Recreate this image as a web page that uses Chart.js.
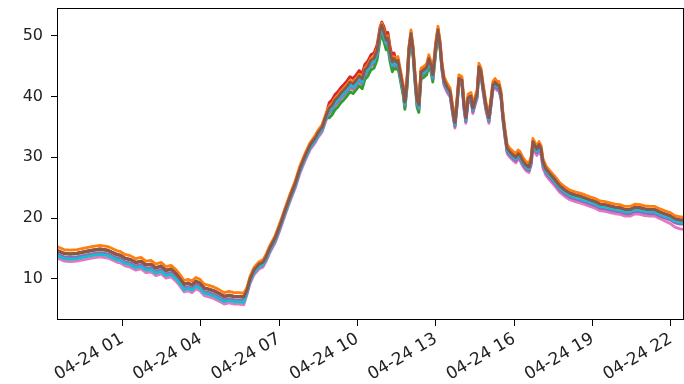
<!DOCTYPE html>
<html>
<head>
<meta charset="utf-8">
<script src="https://cdn.jsdelivr.net/npm/chart.js@4.4.0/dist/chart.umd.min.js"></script>
<style>
  html, body { margin: 0; padding: 0; background: #fff; }
</style>
</head>
<body>
<canvas id="chart" width="684" height="384"></canvas>
<script>
// sample times, minutes from 04-24 00:00 (starts 04-23 22:30)
const minutes = [
  -90, -74, -60, -44, -30, -10, 9, 27, 48, 55, 66, 78, 91, 103, 114, 126, 137, 149, 160, 172,
  183, 192, 202, 211, 220, 229, 238, 248, 259, 271, 282, 294, 305, 317, 328, 339,
  346, 353, 362, 374, 383, 390, 399, 411, 422, 434, 445, 457, 468, 480, 491, 503, 509, 519, 528,
  535, 542, 548, 555, 562, 569, 576, 583, 590, 597, 604, 611, 617, 624, 631, 638, 645, 652, 656, 661, 666, 670, 675, 680, 684,
  689, 693, 698, 705, 709, 714, 718, 723, 728, 732, 737, 741, 746, 753, 759, 764, 769, 773, 780, 785,
  790, 794, 799, 806, 813, 819, 824, 829, 833, 840, 845, 849, 854, 861, 865, 870, 875, 879, 884, 888,
  895, 902, 907, 911, 916, 921, 925, 930, 934, 939, 944, 950, 957, 964, 969, 973, 980, 987, 994, 999,
  1003, 1008, 1012, 1017, 1022, 1026, 1033, 1042, 1054, 1065, 1077, 1088, 1100, 1111, 1123, 1134, 1146, 1157, 1169, 1180,
  1192, 1203, 1215, 1226, 1238, 1249, 1260, 1272, 1283, 1295, 1306, 1318, 1329, 1341, 1350
];

const brown = [
  14.7, 14.2, 14.1, 14.2, 14.4, 14.7, 14.9, 14.7, 14.0, 13.9, 13.4, 13.2, 12.7, 12.9, 12.3, 12.4, 11.8, 12.1, 11.4, 11.6,
  10.9, 10.1, 9.1, 9.3, 9.0, 9.6, 9.3, 8.5, 8.3, 8.0, 7.6, 7.1, 7.3, 7.1, 7.1, 7.0,
  8.1, 9.9, 11.4, 12.4, 12.7, 13.6, 15.1, 16.7, 18.8, 21.3, 23.5, 25.7, 28.2, 30.3, 32.0, 33.2, 34.0, 35.0, 36.9,
  38.1, 38.6, 39.4, 39.9, 40.6, 41.1, 41.7, 42.4, 42.1, 42.7, 43.4, 42.9, 44.4, 45.0, 46.0, 46.3, 47.6, 51.0, 51.8, 50.6, 49.3, 49.7, 47.3, 45.7, 46.3,
  45.7, 46.0, 44.1, 41.4, 39.1, 42.7, 47.6, 50.4, 47.6, 43.6, 39.4, 38.6, 44.1, 44.4, 44.8, 46.3, 45.2, 43.6, 48.5, 51.0,
  48.5, 45.2, 42.7, 41.6, 40.8, 37.8, 35.7, 39.4, 43.0, 42.7, 38.6, 36.5, 39.8, 40.1, 38.1, 39.4, 40.6, 44.9, 44.1, 41.9,
  38.6, 36.5, 39.4, 41.9, 42.4, 41.9, 41.9, 40.3, 37.0, 34.0, 31.5, 30.9, 30.4, 30.0, 30.6, 30.4, 29.4, 28.7, 28.4, 29.6,
  32.6, 31.9, 31.4, 32.1, 31.4, 29.3, 28.1, 27.3, 26.3, 25.3, 24.6, 24.1, 23.8, 23.6, 23.3, 23.0, 22.7, 22.3, 22.2, 22.0,
  21.8, 21.7, 21.4, 21.4, 21.8, 21.7, 21.5, 21.4, 21.4, 21.0, 20.7, 20.4, 19.9, 19.7, 19.7
];

const orange = [
  15.3, 14.8, 14.7, 14.8, 15.0, 15.3, 15.5, 15.3, 14.6, 14.5, 14.0, 13.8, 13.3, 13.5, 12.9, 13.0, 12.4, 12.7, 12.0, 12.2,
  11.5, 10.7, 9.7, 9.9, 9.6, 10.2, 9.9, 9.1, 8.9, 8.6, 8.2, 7.7, 7.9, 7.7, 7.7, 7.6,
  8.5, 10.3, 11.8, 12.8, 13.1, 14.0, 15.5, 17.1, 19.2, 21.7, 23.9, 26.1, 28.6, 30.7, 32.4, 33.6, 34.4, 35.4, 37.3,
  38.4, 38.9, 39.7, 40.2, 40.9, 41.4, 42.0, 42.7, 42.4, 43.0, 43.7, 43.2, 44.7, 45.3, 46.3, 46.6, 47.9, 51.3, 52.1, 50.9, 49.6, 50.0, 47.6, 46.0, 46.6,
  46.3, 46.6, 44.7, 42.0, 39.7, 43.3, 48.2, 51.0, 48.2, 44.2, 40.0, 39.2, 44.7, 45.0, 45.4, 46.9, 45.8, 44.2, 49.1, 51.6,
  49.1, 45.8, 43.3, 42.2, 41.4, 38.4, 36.3, 40.0, 43.6, 43.3, 39.2, 37.1, 40.4, 40.7, 38.7, 40.0, 41.2, 45.5, 44.7, 42.5,
  39.2, 37.1, 40.0, 42.5, 43.0, 42.5, 42.5, 40.9, 37.6, 34.6, 32.1, 31.5, 31.0, 30.6, 31.2, 31.0, 30.0, 29.3, 29.0, 30.2,
  33.1, 32.4, 31.9, 32.6, 31.9, 29.8, 28.6, 27.8, 26.8, 25.8, 25.1, 24.6, 24.3, 24.1, 23.8, 23.5, 23.2, 22.8, 22.7, 22.5,
  22.3, 22.2, 21.9, 21.9, 22.3, 22.2, 22.0, 21.9, 21.9, 21.5, 21.2, 20.9, 20.4, 20.2, 20.2
];

const red = [
  14.7, 14.2, 14.1, 14.2, 14.4, 14.7, 14.9, 14.7, 14.0, 13.9, 13.4, 13.2, 12.7, 12.9, 12.3, 12.4, 11.8, 12.1, 11.4, 11.6,
  10.9, 10.1, 9.1, 9.3, 9.0, 9.6, 9.3, 8.5, 8.3, 8.0, 7.6, 7.1, 7.3, 7.1, 7.1, 7.0,
  8.2, 10.0, 11.5, 12.5, 12.8, 13.7, 15.2, 16.8, 18.9, 21.4, 23.6, 25.8, 28.3, 30.4, 32.1, 33.3, 34.1, 35.1, 37.0,
  39.0, 39.5, 40.3, 40.8, 41.5, 42.0, 42.6, 43.3, 43.0, 43.6, 44.3, 43.8, 45.3, 45.9, 46.9, 47.2, 48.5, 51.5, 52.3, 51.5, 50.2, 50.6, 48.2, 46.6, 47.2,
  45.9, 46.2, 44.3, 41.6, 39.3, 42.9, 47.8, 50.6, 47.8, 43.8, 39.6, 38.8, 44.3, 44.6, 45.0, 46.5, 45.4, 43.8, 48.7, 51.2,
  48.6, 45.3, 42.8, 41.7, 40.9, 37.9, 35.8, 39.5, 43.1, 42.8, 38.7, 36.6, 39.9, 40.2, 38.2, 39.5, 40.7, 45.0, 44.2, 42.0,
  38.7, 36.6, 39.5, 42.0, 42.5, 42.0, 42.0, 40.4, 37.1, 34.1, 31.6, 31.0, 30.5, 30.1, 30.7, 30.5, 29.5, 28.8, 28.5, 29.7,
  32.6, 31.9, 31.4, 32.1, 31.4, 29.3, 28.1, 27.3, 26.3, 25.3, 24.6, 24.1, 23.8, 23.6, 23.3, 23.0, 22.7, 22.3, 22.2, 22.0,
  21.8, 21.7, 21.4, 21.4, 21.8, 21.7, 21.5, 21.4, 21.4, 21.0, 20.7, 20.4, 19.9, 19.7, 19.7
];

const purple = [
  14.1, 13.6, 13.5, 13.6, 13.8, 14.1, 14.3, 14.1, 13.4, 13.3, 12.8, 12.6, 12.1, 12.3, 11.7, 11.8, 11.2, 11.5, 10.8, 11.0,
  10.3, 9.5, 8.5, 8.7, 8.4, 9.0, 8.7, 7.9, 7.7, 7.4, 7.0, 6.5, 6.7, 6.5, 6.5, 6.4,
  7.6, 9.4, 10.9, 11.9, 12.2, 13.1, 14.6, 16.2, 18.3, 20.8, 23.0, 25.2, 27.7, 29.8, 31.5, 32.7, 33.5, 34.5, 36.4,
  37.4, 37.9, 38.7, 39.2, 39.9, 40.4, 41.0, 41.7, 41.4, 42.0, 42.7, 42.2, 43.7, 44.3, 45.3, 45.6, 46.9, 50.3, 51.1, 49.9, 48.6, 49.0, 46.6, 45.0, 45.6,
  45.1, 45.4, 43.5, 40.8, 38.5, 42.1, 47.0, 49.8, 47.0, 43.0, 38.8, 38.0, 43.5, 43.8, 44.2, 45.7, 44.6, 43.0, 47.9, 50.4,
  47.9, 44.6, 42.1, 41.0, 40.2, 37.2, 35.1, 38.8, 42.4, 42.1, 38.0, 35.9, 39.2, 39.5, 37.5, 38.8, 40.0, 44.3, 43.5, 41.3,
  38.0, 35.9, 38.8, 41.3, 41.8, 41.3, 41.3, 39.7, 36.4, 33.4, 30.9, 30.3, 29.8, 29.4, 30.0, 29.8, 28.8, 28.1, 27.8, 29.0,
  31.9, 31.2, 30.7, 31.4, 30.7, 28.6, 27.4, 26.6, 25.6, 24.6, 23.9, 23.4, 23.1, 22.9, 22.6, 22.3, 22.0, 21.6, 21.5, 21.3,
  21.1, 21.0, 20.7, 20.7, 21.1, 21.0, 20.8, 20.7, 20.7, 20.3, 20.0, 19.7, 19.2, 19.0, 19.0
];

const cyan = [
  13.8, 13.3, 13.2, 13.3, 13.5, 13.8, 14.0, 13.8, 13.1, 13.0, 12.5, 12.3, 11.8, 12.0, 11.4, 11.5, 10.9, 11.2, 10.5, 10.7,
  10.0, 9.2, 8.2, 8.4, 8.1, 8.7, 8.4, 7.6, 7.4, 7.1, 6.7, 6.2, 6.4, 6.2, 6.2, 6.1,
  7.7, 9.5, 11.0, 12.0, 12.3, 13.2, 14.7, 16.3, 18.4, 20.9, 23.1, 25.3, 27.8, 29.9, 31.6, 32.8, 33.6, 34.6, 36.5,
  37.6, 38.1, 38.9, 39.4, 40.1, 40.6, 41.2, 41.9, 41.6, 42.2, 42.9, 42.4, 43.9, 44.5, 45.5, 45.8, 47.1, 50.5, 51.3, 50.1, 48.8, 49.2, 46.8, 45.2, 45.8,
  45.3, 45.6, 43.7, 41.0, 38.7, 42.3, 47.2, 50.0, 47.2, 43.2, 39.0, 38.2, 43.7, 44.0, 44.4, 45.9, 44.8, 43.2, 48.1, 50.6,
  48.2, 44.9, 42.4, 41.3, 40.5, 37.5, 35.4, 39.1, 42.7, 42.4, 38.3, 36.2, 39.5, 39.8, 37.8, 39.1, 40.3, 44.6, 43.8, 41.6,
  38.3, 36.2, 39.1, 41.6, 42.1, 41.6, 41.6, 40.0, 36.7, 33.7, 31.2, 30.6, 30.1, 29.7, 30.3, 30.1, 29.1, 28.4, 28.1, 29.3,
  32.2, 31.5, 31.0, 31.7, 31.0, 28.9, 27.7, 26.9, 25.9, 24.9, 24.2, 23.7, 23.4, 23.2, 22.9, 22.6, 22.3, 21.9, 21.8, 21.6,
  21.4, 21.3, 21.0, 21.0, 21.4, 21.3, 21.1, 21.0, 21.0, 20.6, 20.3, 20.0, 19.5, 19.3, 19.3
];

const green = [
  14.6, 14.1, 14.0, 14.1, 14.3, 14.6, 14.8, 14.6, 13.9, 13.8, 13.3, 13.1, 12.6, 12.8, 12.2, 12.3, 11.7, 12.0, 11.3, 11.5,
  10.8, 10.0, 9.0, 9.2, 8.9, 9.5, 9.2, 8.4, 8.2, 7.9, 7.5, 7.0, 7.2, 7.0, 7.0, 6.9,
  7.9, 9.7, 11.2, 12.2, 12.5, 13.4, 14.9, 16.5, 18.6, 21.1, 23.3, 25.5, 28.0, 30.1, 31.8, 33.0, 33.8, 34.8, 36.7,
  36.5, 37.0, 37.8, 38.3, 39.0, 39.5, 40.1, 40.8, 40.5, 41.1, 41.8, 41.3, 42.8, 43.4, 44.4, 44.7, 46.0, 49.4, 50.2, 49.0, 47.7, 48.1, 45.7, 44.1, 44.7,
  44.5, 44.8, 42.9, 40.2, 37.9, 41.5, 46.4, 49.2, 46.4, 42.4, 38.2, 37.4, 42.9, 43.2, 43.6, 45.1, 44.0, 42.4, 47.3, 49.8,
  48.0, 44.7, 42.2, 41.1, 40.3, 37.3, 35.2, 38.9, 42.5, 42.2, 38.1, 36.0, 39.3, 39.6, 37.6, 38.9, 40.1, 44.4, 43.6, 41.4,
  38.1, 36.0, 38.9, 41.4, 41.9, 41.4, 41.4, 39.8, 36.5, 33.5, 31.0, 30.4, 29.9, 29.5, 30.1, 29.9, 28.9, 28.2, 27.9, 29.1,
  32.4, 31.7, 31.2, 31.9, 31.2, 29.1, 27.9, 27.1, 26.1, 25.1, 24.4, 23.9, 23.6, 23.4, 23.1, 22.8, 22.5, 22.1, 22.0, 21.8,
  21.6, 21.5, 21.2, 21.2, 21.6, 21.5, 21.3, 21.2, 21.2, 20.8, 20.5, 20.2, 19.7, 19.5, 19.5
];

const pink = [
  13.4, 12.9, 12.8, 12.9, 13.1, 13.4, 13.6, 13.4, 12.7, 12.6, 12.1, 11.9, 11.4, 11.6, 11.0, 11.1, 10.5, 10.8, 10.1, 10.3,
  9.6, 8.8, 7.8, 8.0, 7.7, 8.3, 8.0, 7.2, 7.0, 6.7, 6.3, 5.8, 6.0, 5.8, 5.8, 5.7,
  7.3, 9.1, 10.6, 11.6, 11.9, 12.8, 14.3, 15.9, 18.0, 20.5, 22.7, 24.9, 27.4, 29.5, 31.2, 32.4, 33.2, 34.2, 36.1,
  37.1, 37.6, 38.4, 38.9, 39.6, 40.1, 40.7, 41.4, 41.1, 41.7, 42.4, 41.9, 43.4, 44.0, 45.0, 45.3, 46.6, 50.0, 50.8, 49.6, 48.3, 48.7, 46.3, 44.7, 45.3,
  44.8, 45.1, 43.2, 40.5, 38.2, 41.8, 46.7, 49.5, 46.7, 42.7, 38.5, 37.7, 43.2, 43.5, 43.9, 45.4, 44.3, 42.7, 47.6, 50.1,
  47.6, 44.3, 41.8, 40.7, 39.9, 36.9, 34.8, 38.5, 42.1, 41.8, 37.7, 35.6, 38.9, 39.2, 37.2, 38.5, 39.7, 44.0, 43.2, 41.0,
  37.7, 35.6, 38.5, 41.0, 41.5, 41.0, 41.0, 39.4, 36.1, 33.1, 30.6, 30.0, 29.5, 29.1, 29.7, 29.5, 28.5, 27.8, 27.5, 28.7,
  31.5, 30.8, 30.3, 31.0, 30.3, 28.2, 27.0, 26.2, 25.2, 24.2, 23.5, 23.0, 22.7, 22.5, 22.2, 21.9, 21.6, 21.2, 21.1, 20.9,
  20.7, 20.6, 20.3, 20.3, 20.7, 20.6, 20.4, 20.3, 20.3, 19.9, 19.5, 19.1, 18.5, 18.2, 18.1
];

const tickHours = [1, 4, 7, 10, 13, 16, 19, 22];
const yTicks = [10, 20, 30, 40, 50];
const dayLabel = "04-24";

// first dataset ends up on top
const lines = [
  { values: brown, color: "#8c564b" },
  { values: orange, color: "#ff7f0e" },
  { values: red, color: "#d62728" },
  { values: cyan, color: "#17becf" },
  { values: purple, color: "#9467bd" },
  { values: green, color: "#2ca02c" },
  { values: pink, color: "#e377c2" }
];

Chart.defaults.font.family = "'DejaVu Sans', sans-serif";
Chart.defaults.color = "#222";

const boxPlugin = {
  id: "box",
  afterDraw(chart) {
    const { ctx, chartArea } = chart;
    ctx.save();
    ctx.strokeStyle = "#000";
    ctx.lineWidth = 1;
    ctx.strokeRect(
      chartArea.left + 0.5,
      chartArea.top + 0.5,
      chartArea.right - chartArea.left - 1,
      chartArea.bottom - chartArea.top - 1
    );
    ctx.restore();
  }
};

const chart = new Chart(document.getElementById("chart"), {
  type: "line",
  data: {
    datasets: lines.map((l) => ({
      data: l.values.map((v, i) => ({ x: minutes[i], y: v })),
      borderColor: l.color,
      backgroundColor: l.color,
      borderWidth: 2.8,
      pointRadius: 0,
      tension: 0,
      borderJoinStyle: "round"
    }))
  },
  options: {
    responsive: false,
    animation: false,
    devicePixelRatio: 1,
    layout: { padding: { top: 8, right: 0, left: 0, bottom: 0 } },
    plugins: { legend: { display: false }, tooltip: { enabled: false } },
    scales: {
      x: {
        type: "linear",
        min: -90,
        max: 1350,
        border: { display: false },
        grid: { drawOnChartArea: false, tickLength: 6, color: "#000" },
        ticks: {
          font: { size: 17 },
          minRotation: 30,
          maxRotation: 30,
          autoSkip: false,
          padding: 3,
          callback: (v) => dayLabel + " " + String(v / 60).padStart(2, "0")
        },
        afterBuildTicks: (scale) => {
          scale.ticks = tickHours.map((h) => ({ value: h * 60 }));
        },
        afterFit: (scale) => {
          scale.height = 64;
          scale.paddingLeft = 0;
          scale.paddingRight = 0;
        }
      },
      y: {
        min: 3.19,
        max: 54.61,
        border: { display: false },
        grid: { drawOnChartArea: false, tickLength: 6, color: "#000" },
        ticks: { font: { size: 16 }, padding: 8 },
        afterBuildTicks: (scale) => {
          scale.ticks = yTicks.map((v) => ({ value: v }));
        },
        afterFit: (scale) => {
          scale.width = 57;
          scale.paddingTop = 0;
          scale.paddingBottom = 0;
        }
      }
    }
  },
  plugins: [boxPlugin]
});
</script>
</body>
</html>
